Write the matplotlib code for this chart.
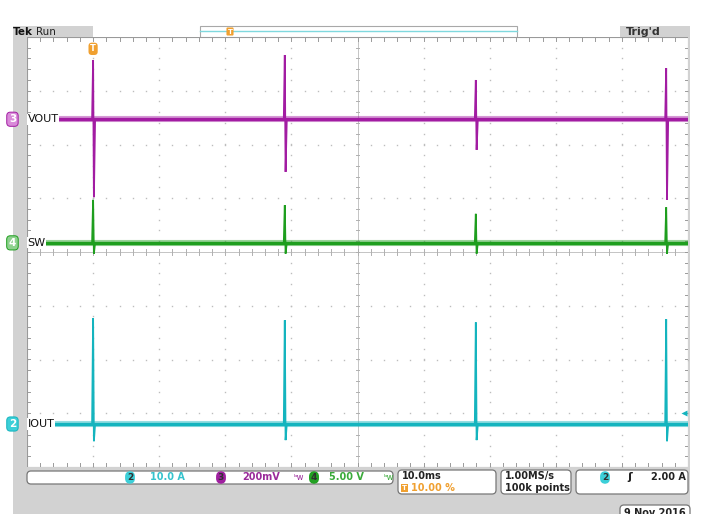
import matplotlib
matplotlib.use("Agg")
import matplotlib.pyplot as plt
from matplotlib.patches import Rectangle, FancyBboxPatch
import numpy as np

plt.rcParams['font.family'] = ['DejaVu Sans']

# ---- acquisition data -------------------------------------------------------
time_range_ms = [-10.0, 90.0]             # 10 ms/div, trigger at 10 %
spike_times_ms = [0.0, 29.0, 57.9, 86.7]

channels = ["VOUT", "SW", "IOUT"]
channel_numbers = [3, 4, 2]
channel_scales = [200.0, 5.0, 10.0]        # mV/div, V/div, A/div
channel_units = ["mV", "V", "A"]
channel_positions = [2.47, 0.17, -3.20]    # divisions

vout_peaks_mV = [220, 239, 146, 190]
vout_troughs_mV = [-290, -196, -114, -300]
sw_peaks_V = [4.0, 3.5, 2.7, 3.3]
sw_troughs_V = [-1.0, -1.0, -1.0, -1.0]
iout_peaks_A = [19.7, 19.3, 18.9, 19.5]
iout_troughs_A = [-3.2, -3.0, -3.0, -3.2]

trigger_level_A = 2.00

colors = {"VOUT": "#A21CA2", "SW": "#1E9E1E", "IOUT": "#14B4BE"}
text_colors = {"VOUT": "#9A2A9A", "SW": "#3AAA3A", "IOUT": "#35C3CD"}
orange = "#F0A030"

W, H = 701, 514
fig = plt.figure(figsize=(W / 100, H / 100), dpi=100)
fig.patch.set_facecolor("white")

# ---- screen chrome in pixel coordinates -------------------------------------
bg = fig.add_axes([0, 0, 1, 1], zorder=0)
bg.set_xlim(0, W)
bg.set_ylim(H, 0)
bg.axis("off")
bg.add_patch(Rectangle((13, 26), 677, H - 26, color="#D2D2D2", lw=0))

# top bar
bg.add_patch(Rectangle((93, 26), 527, 11, color="white", lw=0))
bg.add_patch(Rectangle((200, 26), 317, 11, fill=False, ec="#A8A8A8", lw=0.8))
bg.plot([200, 517], [31, 31], color="#7FD8DE", lw=1.0)
bg.text(230, 31.5, "T", color="white", fontsize=5, fontweight="bold",
        ha="center", va="center",
        bbox=dict(boxstyle="round,pad=0.15", fc=orange, ec="none"))
bg.text(13, 32, "Tek", fontsize=7.5, fontweight="bold", color="#111111",
        va="center", ha="left")
bg.text(36, 32, "Run", fontsize=7.5, color="#222222", va="center", ha="left")
bg.text(626, 32, "Trig'd", fontsize=8, fontweight="bold", color="#333333",
        va="center", ha="left")


def rbox(x0, y0, x1, y1):
    bg.add_patch(FancyBboxPatch((x0, y0), x1 - x0, y1 - y0,
                                boxstyle="round,pad=0,rounding_size=4",
                                fc="white", ec="#777777", lw=0.9))


def pill(xc, yc, num, color):
    bg.text(xc, yc, str(num), fontsize=6.5, fontweight="bold", color="#303030",
            ha="center", va="center",
            bbox=dict(boxstyle="round,pad=0.2,rounding_size=0.6", fc=color, ec="none"))


# status boxes
rbox(27, 471, 393, 484)
rbox(398, 470, 496, 494)
rbox(501, 470, 571, 494)
rbox(576, 470, 688, 494)
rbox(620, 505, 690, 520)

pill(130, 477.5, channel_numbers[2], "#3CCFD8")
bg.text(150, 477.5, f"{channel_scales[2]:.1f} {channel_units[2]}", fontsize=7,
        fontweight="bold", color=text_colors["IOUT"], va="center")
pill(221, 477.5, channel_numbers[0], "#A020A0")
bg.text(242, 477.5, f"{channel_scales[0]:.0f}{channel_units[0]}", fontsize=7,
        fontweight="bold", color=text_colors["VOUT"], va="center")
bg.text(293, 477.5, "ᵇw", fontsize=6, color=text_colors["VOUT"], va="center")
pill(314, 477.5, channel_numbers[1], "#22A022")
bg.text(329, 477.5, f"{channel_scales[1]:.2f} {channel_units[1]}", fontsize=7,
        fontweight="bold", color=text_colors["SW"], va="center")
bg.text(383, 477.5, "ᵇw", fontsize=6, color=text_colors["SW"], va="center")

bg.text(402, 476, "10.0ms", fontsize=7, fontweight="bold", color="#222222", va="center")
bg.text(402, 488, "T", fontsize=5, fontweight="bold", color="white", va="center",
        bbox=dict(boxstyle="square,pad=0.1", fc=orange, ec="none"))
bg.text(411, 488, "10.00 %", fontsize=7, fontweight="bold", color=orange, va="center")
bg.text(505, 476, "1.00MS/s", fontsize=7, fontweight="bold", color="#222222", va="center")
bg.text(505, 488, "100k points", fontsize=7, fontweight="bold", color="#222222", va="center")
pill(605, 477.5, channel_numbers[2], "#3CCFD8")
bg.text(627, 477.5, "ʃ", fontsize=8, fontweight="bold", color="#222222", va="center")
bg.text(686, 477.5, f"{trigger_level_A:.2f} A", fontsize=7, fontweight="bold",
        color="#222222", va="center", ha="right")
bg.text(624, 508, "9 Nov 2016", fontsize=7, fontweight="bold", color="#222222",
        va="top", ha="left")

# ---- graticule --------------------------------------------------------------
gx0, gy0, gx1, gy1 = 27, 37, 688, 467
ax = fig.add_axes([gx0 / W, (H - gy1) / H, (gx1 - gx0) / W, (gy1 - gy0) / H], zorder=1)
ax.set_xlim(*time_range_ms)
ax.set_ylim(-4, 4)
ax.axis("off")
ax.add_patch(Rectangle((0, 0), 1, 1, transform=ax.transAxes, fc="white", ec="none", zorder=0))

t0, t1 = time_range_ms
xdiv = (t1 - t0) / 10
minor_x = np.arange(t0, t1 + 1e-9, xdiv / 5)
minor_y = np.arange(-4, 4 + 1e-9, 0.2)
grid_c = "#BDBDBD"

for k in range(1, 10):
    xv = t0 + k * xdiv
    if k == 5:
        continue
    ax.plot(np.full_like(minor_y, xv), minor_y, ls="none", marker="s", ms=1.0,
            mec="none", mfc=grid_c, zorder=1)
for k in range(-3, 4):
    if k == 0:
        continue
    ax.plot(minor_x, np.full_like(minor_x, k), ls="none", marker="s", ms=1.0,
            mec="none", mfc=grid_c, zorder=1)

xc = (t0 + t1) / 2
ax.plot([t0, t1], [0, 0], color="#C4C4C4", lw=0.7, zorder=1)
ax.plot([xc, xc], [-4, 4], color="#C4C4C4", lw=0.7, zorder=1)
tx = 0.06
ty = 0.3
for xv in minor_x:
    ax.plot([xv, xv], [-tx, tx], color="#B0B0B0", lw=0.7, zorder=1)
    ax.plot([xv, xv], [4, 4 - tx * 1.3], color="#9A9A9A", lw=0.7, zorder=1)
    ax.plot([xv, xv], [-4, -4 + tx * 1.3], color="#9A9A9A", lw=0.7, zorder=1)
for yv in minor_y:
    ax.plot([xc - ty, xc + ty], [yv, yv], color="#B0B0B0", lw=0.7, zorder=1)
    ax.plot([t0, t0 + ty * 1.3], [yv, yv], color="#9A9A9A", lw=0.7, zorder=1)
    ax.plot([t1, t1 - ty * 1.3], [yv, yv], color="#9A9A9A", lw=0.7, zorder=1)
ax.add_patch(Rectangle((0, 0), 1, 1, transform=ax.transAxes, fill=False,
                       ec="#9A9A9A", lw=0.8, zorder=2))

# ---- traces -----------------------------------------------------------------
peaks = [vout_peaks_mV, sw_peaks_V, iout_peaks_A]
troughs = [vout_troughs_mV, sw_troughs_V, iout_troughs_A]

for name, pos, scale, pk, tr in zip(channels, channel_positions, channel_scales,
                                     peaks, troughs):
    c = colors[name]
    # noisy baseline band
    ax.plot([t0, t1], [pos, pos], color=c, lw=4.4, alpha=0.45, zorder=3,
            solid_capstyle="butt")
    ax.plot([t0, t1], [pos, pos], color=c, lw=2.4, zorder=3, solid_capstyle="butt")
    # switching spikes
    for ts, p, q in zip(spike_times_ms, pk, tr):
        xs = [ts - 0.15, ts, ts + 0.12, ts + 0.3]
        ys = [pos, pos + p / scale, pos + q / scale, pos]
        ax.plot(xs, ys, color=c, lw=1.3, zorder=4, solid_joinstyle="miter")

# channel labels and ground markers
label_fill = {"VOUT": "#D98AD9", "SW": "#8ED18E", "IOUT": "#3CCFD8"}
for name, num, pos in zip(channels, channel_numbers, channel_positions):
    ax.text(t0 - 2.2, pos, str(num), fontsize=7.5, fontweight="bold", color="white",
            ha="center", va="center", clip_on=False, zorder=6,
            bbox=dict(boxstyle="round,pad=0.2,rounding_size=0.35",
                      fc=label_fill[name], ec=colors[name], lw=0.7))
    ax.text(t0 + 0.1, pos, name, fontsize=8, color="#111111", ha="left",
            va="center", zorder=6,
            bbox=dict(boxstyle="square,pad=0.05", fc="white", ec="none"))

# trigger position and level markers
ax.text(spike_times_ms[0], 3.78, "T", fontsize=6, fontweight="bold", color="white",
        ha="center", va="center", zorder=6,
        bbox=dict(boxstyle="round,pad=0.2,rounding_size=0.4", fc=orange, ec="none"))
trig_div = channel_positions[2] + trigger_level_A / channel_scales[2]
ax.plot([t1 - 0.6], [trig_div], marker="<", ms=4.5, color=colors["IOUT"],
        mec="none", zorder=6, clip_on=False)

fig.savefig("out.png", dpi=100)
